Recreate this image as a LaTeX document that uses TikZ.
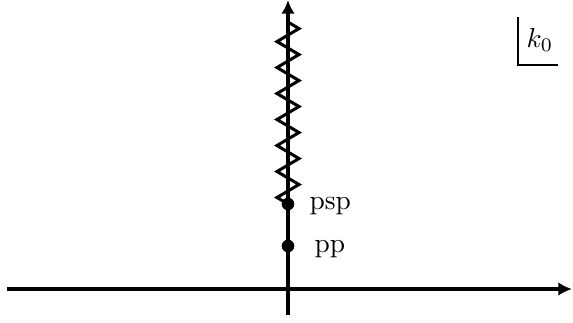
\documentclass[tikz,border=0pt]{standalone}
\usetikzlibrary{arrows.meta,decorations.pathmorphing}
\begin{document}
\begin{tikzpicture}[x=0.364pt,y=-0.364pt,
  axis/.style={line width=1.1pt,-{Latex[length=5pt,width=5pt]}},
  dot/.style={circle,fill=black,inner sep=0pt,minimum size=4.6pt},
  lbl/.style={inner sep=0pt,anchor=base west},
  zz/.style={line width=1.1pt,decorate,decoration={zigzag,segment length=9.46pt,amplitude=4pt}}]
\useasboundingbox (0,0) rectangle (573,322);
% axes
\coordinate (vb) at (288,315);
\coordinate (vt) at (288,0);
\coordinate (hl) at (7,289);
\coordinate (hr) at (572,289);
\draw[axis] (hl) -- (hr);
\draw[axis] (vb) -- (vt);
% points
\node[dot] (psp) at (288,204) {};
\node[dot] (pp) at (288,246) {};
\node[lbl] (psplbl) at (309,209) {psp};
\node[lbl] (pplbl) at (314,252) {pp};
% branch cut
\coordinate (cut) at (288,22);
\draw[zz] (psp.center) -- (cut);
% k0 box
\coordinate (ka) at (518,17);
\coordinate (kb) at (518,65);
\coordinate (kc) at (558,65);
\draw[line width=1pt] (ka) -- (kb) -- (kc);
\node[lbl] (k0) at (526,47) {$k_0$};
\end{tikzpicture}
\end{document}
